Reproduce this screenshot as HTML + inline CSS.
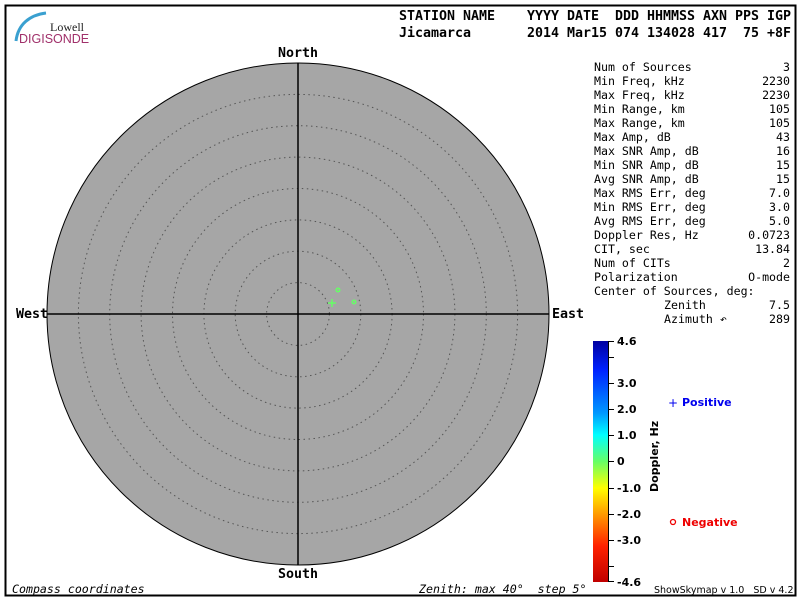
<!DOCTYPE html>
<html><head><meta charset="utf-8"><style>
html,body{margin:0;padding:0;background:#fff}
svg{display:block}
.m{font-family:"DejaVu Sans Mono","Liberation Mono",monospace;font-size:11.6px;fill:#000}
.h{font-family:"DejaVu Sans Mono","Liberation Mono",monospace;font-size:13.3px;fill:#000;font-weight:bold}
.b{font-family:"DejaVu Sans","Liberation Sans",sans-serif;font-size:11px;font-weight:bold}
</style></head><body>
<svg width="800" height="600" viewBox="0 0 800 600" xmlns="http://www.w3.org/2000/svg">
<defs>
<linearGradient id="g" x1="0" y1="0" x2="0" y2="1">
<stop offset="0" stop-color="#0000a0"/>
<stop offset="0.12" stop-color="#0022ff"/>
<stop offset="0.3" stop-color="#0099ff"/>
<stop offset="0.39" stop-color="#00ffff"/>
<stop offset="0.5" stop-color="#66ff66"/>
<stop offset="0.61" stop-color="#ffff00"/>
<stop offset="0.72" stop-color="#ff9900"/>
<stop offset="0.85" stop-color="#ff2200"/>
<stop offset="1" stop-color="#c00000"/>
</linearGradient>
</defs>
<rect x="5.5" y="5.5" width="790" height="590" fill="none" stroke="#000" stroke-width="2"/>
<path d="M16 41 C18 24 30 15 46 13" fill="none" stroke="#3aa0d0" stroke-width="3"/>
<text x="50" y="31" font-family="Liberation Serif,serif" font-size="12" fill="#222">Lowell</text>
<text x="19" y="43" font-family="Liberation Sans,sans-serif" font-size="12.5" fill="#a0306a">DIGISONDE</text>
<text class="h" x="399" y="20" xml:space="preserve" textLength="392">STATION NAME    YYYY DATE  DDD HHMMSS AXN PPS IGP</text>
<text class="h" x="399" y="37" xml:space="preserve" textLength="392">Jicamarca       2014 Mar15 074 134028 417  75 +8F</text>
<circle cx="298" cy="314" r="251" fill="#a6a6a6" stroke="#000" stroke-width="1"/>
<g fill="none" stroke="#555" stroke-width="1" stroke-dasharray="1.5,3.5">
<circle cx="298" cy="314" r="31.4"/><circle cx="298" cy="314" r="62.8"/><circle cx="298" cy="314" r="94.1"/>
<circle cx="298" cy="314" r="125.5"/><circle cx="298" cy="314" r="156.9"/><circle cx="298" cy="314" r="188.3"/><circle cx="298" cy="314" r="219.6"/>
</g>
<line x1="298" y1="63" x2="298" y2="565" stroke="#000" stroke-width="1.5"/>
<line x1="47" y1="314" x2="549" y2="314" stroke="#000" stroke-width="1.5"/>
<text class="h" x="298" y="57" text-anchor="middle" font-size="12.5">North</text>
<text class="h" x="298" y="578" text-anchor="middle" font-size="12.5">South</text>
<text class="h" x="16" y="318" font-size="12.5">West</text>
<text class="h" x="552" y="318" font-size="12.5">East</text>
<g stroke="#66ff66" stroke-width="1.5" fill="none">
<line x1="328" y1="303" x2="336" y2="303"/><line x1="332" y1="299" x2="332" y2="307"/>
<circle cx="338" cy="290" r="1.8"/><circle cx="354" cy="302" r="1.8"/>
</g>
<g class="m" xml:space="preserve">
<text x="594" y="71">Num of Sources</text><text x="790" y="71" text-anchor="end">3</text>
<text x="594" y="85">Min Freq, kHz</text><text x="790" y="85" text-anchor="end">2230</text>
<text x="594" y="99">Max Freq, kHz</text><text x="790" y="99" text-anchor="end">2230</text>
<text x="594" y="113">Min Range, km</text><text x="790" y="113" text-anchor="end">105</text>
<text x="594" y="127">Max Range, km</text><text x="790" y="127" text-anchor="end">105</text>
<text x="594" y="141">Max Amp, dB</text><text x="790" y="141" text-anchor="end">43</text>
<text x="594" y="155">Max SNR Amp, dB</text><text x="790" y="155" text-anchor="end">16</text>
<text x="594" y="169">Min SNR Amp, dB</text><text x="790" y="169" text-anchor="end">15</text>
<text x="594" y="183">Avg SNR Amp, dB</text><text x="790" y="183" text-anchor="end">15</text>
<text x="594" y="197">Max RMS Err, deg</text><text x="790" y="197" text-anchor="end">7.0</text>
<text x="594" y="211">Min RMS Err, deg</text><text x="790" y="211" text-anchor="end">3.0</text>
<text x="594" y="225">Avg RMS Err, deg</text><text x="790" y="225" text-anchor="end">5.0</text>
<text x="594" y="239">Doppler Res, Hz</text><text x="790" y="239" text-anchor="end">0.0723</text>
<text x="594" y="253">CIT, sec</text><text x="790" y="253" text-anchor="end">13.84</text>
<text x="594" y="267">Num of CITs</text><text x="790" y="267" text-anchor="end">2</text>
<text x="594" y="281">Polarization</text><text x="790" y="281" text-anchor="end">O-mode</text>
<text x="594" y="295">Center of Sources, deg:</text>
<text x="664" y="309">Zenith</text><text x="790" y="309" text-anchor="end">7.5</text>
<text x="664" y="323">Azimuth ↶</text><text x="790" y="323" text-anchor="end">289</text>
</g>
<rect x="593" y="341" width="15" height="241" fill="url(#g)"/>
<line x1="608.5" y1="341" x2="608.5" y2="582" stroke="#000"/>
<g stroke="#000">
<line x1="608" y1="341.5" x2="614" y2="341.5"/><line x1="608" y1="357.5" x2="614" y2="357.5"/>
<line x1="608" y1="383.5" x2="614" y2="383.5"/><line x1="608" y1="409.5" x2="614" y2="409.5"/>
<line x1="608" y1="435.5" x2="614" y2="435.5"/><line x1="608" y1="461.5" x2="614" y2="461.5"/>
<line x1="608" y1="488.5" x2="614" y2="488.5"/><line x1="608" y1="514.5" x2="614" y2="514.5"/>
<line x1="608" y1="540.5" x2="614" y2="540.5"/><line x1="608" y1="566.5" x2="614" y2="566.5"/>
<line x1="608" y1="581.5" x2="614" y2="581.5"/>
</g>
<g class="b" fill="#000">
<text x="617" y="345">4.6</text><text x="617" y="387">3.0</text><text x="617" y="413">2.0</text>
<text x="617" y="439">1.0</text><text x="617" y="465">0</text><text x="617" y="492">-1.0</text>
<text x="617" y="518">-2.0</text><text x="617" y="544">-3.0</text><text x="617" y="586">-4.6</text>
</g>
<text class="b" font-size="10" transform="translate(658,492) rotate(-90)" fill="#000">Doppler, Hz</text>
<text x="668" y="407" font-family="DejaVu Sans,sans-serif" font-size="12" fill="#0000ee">+</text>
<text class="b" x="682" y="406" fill="#0000ee">Positive</text>
<circle cx="673" cy="522" r="2.5" fill="none" stroke="#ee0000" stroke-width="1.3"/>
<text class="b" x="682" y="526" fill="#ee0000">Negative</text>
<text x="12" y="593" font-family="DejaVu Sans Mono,monospace" font-size="11.6" font-style="italic">Compass coordinates</text>
<text x="419" y="593" font-family="DejaVu Sans Mono,monospace" font-size="11.6" font-style="italic" xml:space="preserve">Zenith: max 40°  step 5°</text>
<text x="654" y="593" font-family="DejaVu Sans,sans-serif" font-size="9.5" xml:space="preserve">ShowSkymap v 1.0   SD v 4.2</text>
</svg>
</body></html>
